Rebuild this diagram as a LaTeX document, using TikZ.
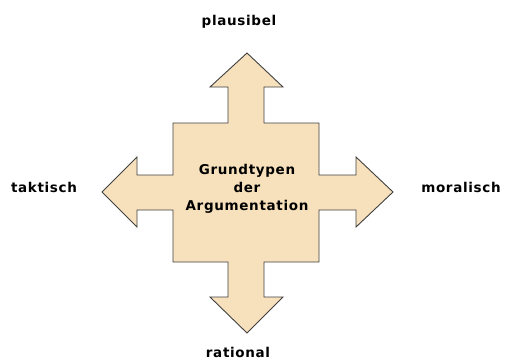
\documentclass[tikz,border=0pt]{standalone}
\usepackage{fontspec}
\setmainfont{DejaVu Sans}[LetterSpace=5]
\usepackage{tikz}
\usetikzlibrary{positioning}
\definecolor{weizen}{RGB}{247,225,188}

\begin{document}
\begin{tikzpicture}[x=1pt, y=-1pt,
  label/.style={font=\bfseries\fontsize{13.5}{18}\selectfont, text=black},
  cross/.style={draw=black!75, fill=weizen, line width=0.9pt, line join=miter}]
\useasboundingbox (0,0) rectangle (505,361);
% Vierfachpfeil
\draw[cross] (247,53) -- (283,87) -- (264,87) -- (264,123) -- (319,123) -- (319,175)
  -- (356,175) -- (356,157) -- (393,192) -- (356,227) -- (356,210) -- (319,210)
  -- (319,262) -- (264,262) -- (264,297) -- (283,297) -- (247,333) -- (210,297)
  -- (228,297) -- (228,262) -- (173,262) -- (173,210) -- (137,210) -- (137,227)
  -- (102,192) -- (137,157) -- (137,175) -- (173,175) -- (173,123) -- (228,123)
  -- (228,87) -- (210,87) -- cycle;
\node[label, align=center] (mitte) at (247,189) {Grundtypen\\der\\Argumentation};
\node[label] (oben) at (239,22) {plausibel};
\node[label] (links) at (44,187) {taktisch};
\node[label] (rechts) at (461,187) {moralisch};
\node[label] (unten) at (238,352) {rational};
\end{tikzpicture}
\end{document}
